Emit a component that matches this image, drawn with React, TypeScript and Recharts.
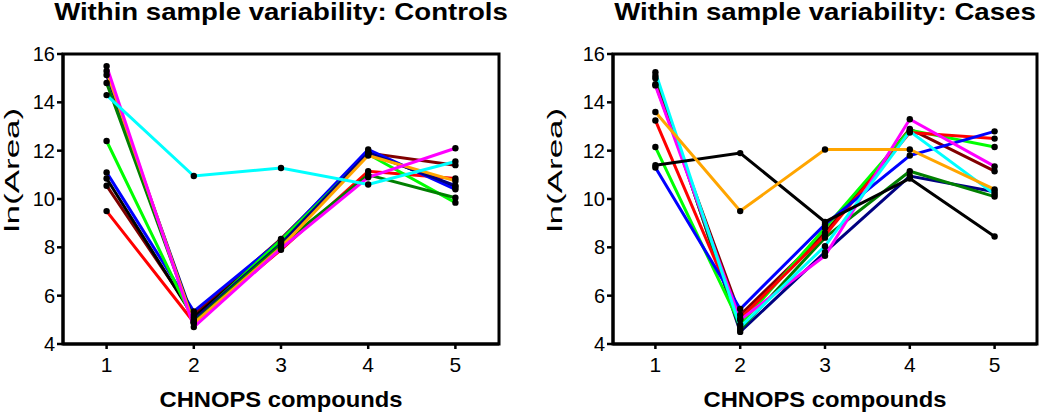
import { LineChart, Line, XAxis, YAxis, ReferenceArea } from "recharts";

const compounds = [1, 2, 3, 4, 5];
const yTicks = [4, 6, 8, 10, 12, 14, 16];

// Controls, ln(Area) per compound
const ctrlRed = [9.5, 4.9, 7.9, 11.15, 10.85];
const ctrlBlue = [11.1, 5.35, 8.3, 12.05, 10.4];
const ctrlBlack = [10.85, 5.1, 8.2, 11.95, 10.5];
const ctrlMaroon = [10.55, 5.2, 8.35, 11.9, 11.4];
const ctrlLime = [12.4, 4.95, 8.3, 11.85, 9.85];
const ctrlDarkGreen = [14.8, 4.9, 8.1, 11.0, 10.05];
const ctrlNavy = [15.13, 5.0, 8.15, 11.9, 10.55];
const ctrlOrange = [15.3, 4.85, 8.0, 11.8, 10.75];
const ctrlMagenta = [15.5, 4.7, 7.95, 10.9, 12.1];
const ctrlCyan = [14.3, 10.95, 11.28, 10.6, 11.55];

// Cases
const caseOrange = [13.6, 9.5, 12.05, 12.05, 10.4];
const caseBlack = [11.4, 11.9, 9.05, 10.85, 8.45];
const caseRed = [13.25, 5.05, 8.5, 12.75, 12.5];
const caseLime = [12.15, 4.8, 8.8, 12.85, 12.15];
const caseBlue = [11.3, 5.45, 8.95, 11.8, 12.8];
const caseCyan = [15.25, 4.7, 8.05, 12.8, 10.2];
const caseMagenta = [14.7, 5.0, 7.65, 13.3, 11.35];
const caseMaroon = [14.75, 5.2, 8.6, 12.9, 11.15];
const caseDarkGreen = [15.0, 4.6, 8.4, 11.15, 10.1];
const caseNavy = [15.1, 4.5, 7.8, 10.95, 10.3];

interface Series {
  key: string;
  color: string;
  values: number[];
}

const controlsSeries: Series[] = [
  { key: "red", color: "#ff0000", values: ctrlRed },
  { key: "maroon", color: "#800000", values: ctrlMaroon },
  { key: "black", color: "#000000", values: ctrlBlack },
  { key: "blue", color: "#0000ff", values: ctrlBlue },
  { key: "lime", color: "#00ff00", values: ctrlLime },
  { key: "navy", color: "#000080", values: ctrlNavy },
  { key: "darkgreen", color: "#008000", values: ctrlDarkGreen },
  { key: "orange", color: "#ffa500", values: ctrlOrange },
  { key: "magenta", color: "#ff00ff", values: ctrlMagenta },
  { key: "cyan", color: "#00ffff", values: ctrlCyan },
];

const casesSeries: Series[] = [
  { key: "navy", color: "#000080", values: caseNavy },
  { key: "darkgreen", color: "#008000", values: caseDarkGreen },
  { key: "maroon", color: "#800000", values: caseMaroon },
  { key: "lime", color: "#00ff00", values: caseLime },
  { key: "red", color: "#ff0000", values: caseRed },
  { key: "blue", color: "#0000ff", values: caseBlue },
  { key: "magenta", color: "#ff00ff", values: caseMagenta },
  { key: "cyan", color: "#00ffff", values: caseCyan },
  { key: "black", color: "#000000", values: caseBlack },
  { key: "orange", color: "#ffa500", values: caseOrange },
];

const FONT = "'Liberation Sans', Arial, sans-serif";

function toRows(series: Series[]) {
  return compounds.map((c, i) => {
    const row: Record<string, number> = { x: c };
    series.forEach((s) => (row[s.key] = s.values[i]));
    return row;
  });
}

function Panel({
  title,
  series,
  left,
  width,
  yAxisWidth,
  rightMargin,
  yLabelX,
}: {
  title: string;
  series: Series[];
  left: number;
  width: number;
  yAxisWidth: number;
  rightMargin: number;
  yLabelX: number;
}) {
  const data = toRows(series);
  const plotCenter = yAxisWidth + (width - yAxisWidth - rightMargin) / 2;
  return (
    <div style={{ position: "absolute", left, top: 0, width, height: 416 }}>
      <LineChart
        width={width}
        height={416}
        data={data}
        margin={{ top: 54, right: rightMargin, bottom: 0, left: 0 }}
      >
        <XAxis
          dataKey="x"
          type="number"
          domain={[0.5, 5.5]}
          ticks={compounds}
          height={72}
          axisLine={{ stroke: "#000", strokeWidth: 3 }}
          tickLine={{ stroke: "#000", strokeWidth: 2.5 }}
          tickSize={5}
          tickMargin={8}
          tick={{ fontSize: 21, fill: "#000", fontFamily: FONT }}
        />
        <YAxis
          type="number"
          domain={[4, 16]}
          ticks={yTicks}
          width={yAxisWidth}
          axisLine={{ stroke: "#000", strokeWidth: 3 }}
          tickLine={{ stroke: "#000", strokeWidth: 2.5 }}
          tickSize={6}
          tickMargin={2}
          tick={{ fontSize: 20, fill: "#000", fontFamily: FONT }}
        />
        <ReferenceArea
          x1={0.5}
          x2={5.5}
          y1={4}
          y2={16}
          fill="none"
          stroke="#000"
          strokeWidth={3}
          ifOverflow="visible"
        />
        {series.map((s) => (
          <Line
            key={s.key}
            dataKey={s.key}
            stroke={s.color}
            strokeWidth={3}
            dot={false}
            activeDot={false}
            isAnimationActive={false}
          />
        ))}
        {series.map((s) => (
          <Line
            key={s.key + "-dots"}
            dataKey={s.key}
            stroke="none"
            dot={{ r: 3.2, fill: "#000", stroke: "none" }}
            activeDot={false}
            isAnimationActive={false}
          />
        ))}
      </LineChart>

      {/* title, stretched a little like the original export */}
      <div
        style={{
          position: "absolute",
          left: plotCenter - 300,
          width: 600,
          top: 0,
          textAlign: "center",
          fontSize: 24,
          lineHeight: "24px",
          fontWeight: "bold",
          whiteSpace: "nowrap",
          transform: "scaleX(1.15)",
        }}
      >
        {title}
      </div>

      {/* x axis title */}
      <div
        style={{
          position: "absolute",
          left: plotCenter - 200,
          width: 400,
          top: 389,
          textAlign: "center",
          fontSize: 22,
          lineHeight: "22px",
          fontWeight: "bold",
          whiteSpace: "nowrap",
          transform: "scaleX(1.08)",
        }}
      >
        CHNOPS compounds
      </div>

      {/* y axis title */}
      <div
        style={{
          position: "absolute",
          left: yLabelX - 100,
          width: 200,
          top: 170 - 12,
          height: 24,
          textAlign: "center",
          fontSize: 20,
          lineHeight: "24px",
          whiteSpace: "nowrap",
          transform: "rotate(-90deg) scaleX(1.75)",
        }}
      >
        ln(Area)
      </div>
    </div>
  );
}

export default function App() {
  return (
    <div
      style={{
        position: "absolute",
        left: 0,
        top: 0,
        width: 1050,
        height: 416,
        background: "#fff",
        fontFamily: FONT,
        color: "#000",
      }}
    >
      <Panel
        title="Within sample variability: Controls"
        series={controlsSeries}
        left={0}
        width={520}
        yAxisWidth={63}
        rightMargin={21}
        yLabelX={12}
      />
      <Panel
        title="Within sample variability: Cases"
        series={casesSeries}
        left={520}
        width={530}
        yAxisWidth={93}
        rightMargin={13}
        yLabelX={35}
      />
    </div>
  );
}
